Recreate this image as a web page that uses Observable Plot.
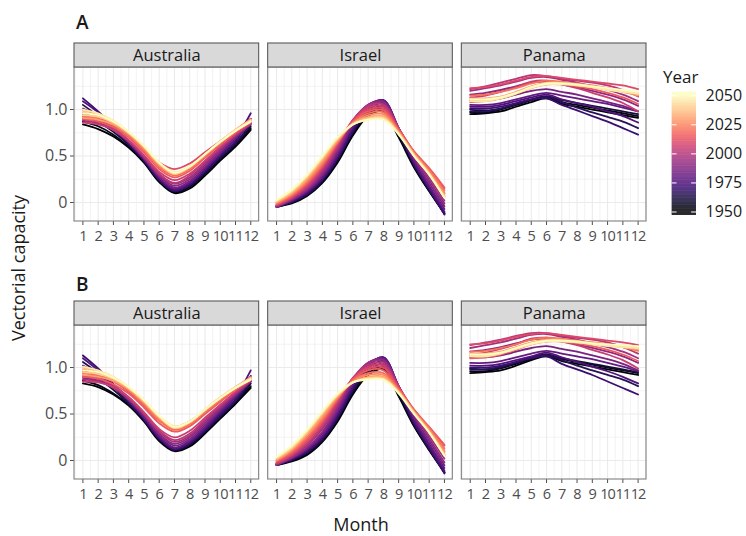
<!DOCTYPE html>
<html>
<head>
<meta charset="utf-8">
<script src="https://cdn.jsdelivr.net/npm/d3@7"></script>
<script src="https://cdn.jsdelivr.net/npm/@observablehq/plot@0.6"></script>
<style>
  body { margin: 0; background: #fff; font-family: "Open Sans", sans-serif; }
  #chart { position: relative; width: 746px; height: 536px; overflow: hidden; background: #fff; }
  .abs { position: absolute; white-space: nowrap; color: #1a1a1a; }
  .tag { font-size: 19px; font-weight: 600; line-height: 20px; }
  .title { font-size: 18px; line-height: 20px; }
  #chart svg g[aria-label="x-axis tick label"] text { font-size: 14.5px; letter-spacing: -0.9px; }
</style>
</head>
<body>
<div id="chart"></div>
<script>
// Facets, months and years shown in each row
const countries = ["Australia", "Israel", "Panama"];
const months = [1, 2, 3, 4, 5, 6, 7, 8, 9, 10, 11, 12];
const years = [1950, 1955, 1960, 1965, 1970, 1975, 1980, 1985, 1990, 1995, 2000,
               2005, 2010, 2015, 2020, 2025, 2030, 2035, 2040, 2045, 2050];

// Axis breaks
const yTicks = [0, 0.5, 1];
const yMinor = [0.25, 0.75, 1.25];
const monthMinor = [0.5, 1.5, 2.5, 3.5, 4.5, 5.5, 6.5, 7.5, 8.5, 9.5, 10.5, 11.5, 12.5];
const legendTicks = [1950, 1975, 2000, 2025, 2050];

// Monthly vectorial capacity, one row of 12 months per year (row A)
const australiaA = [
  [0.84, 0.79, 0.71, 0.59, 0.43, 0.22, 0.10, 0.15, 0.29, 0.45, 0.60, 0.78],
  [0.87, 0.82, 0.73, 0.60, 0.44, 0.23, 0.11, 0.17, 0.31, 0.47, 0.62, 0.80],
  [0.95, 0.87, 0.76, 0.62, 0.45, 0.24, 0.12, 0.18, 0.32, 0.48, 0.63, 0.82],
  [1.05, 0.93, 0.79, 0.63, 0.45, 0.24, 0.12, 0.19, 0.33, 0.49, 0.64, 0.85],
  [1.12, 0.98, 0.82, 0.64, 0.46, 0.25, 0.13, 0.19, 0.34, 0.50, 0.66, 0.90],
  [1.09, 0.97, 0.82, 0.65, 0.47, 0.26, 0.14, 0.21, 0.36, 0.52, 0.69, 0.96],
  [1.01, 0.93, 0.81, 0.65, 0.47, 0.27, 0.15, 0.22, 0.37, 0.53, 0.69, 0.86],
  [0.96, 0.90, 0.80, 0.65, 0.48, 0.28, 0.16, 0.23, 0.38, 0.54, 0.70, 0.84],
  [0.90, 0.86, 0.78, 0.65, 0.48, 0.29, 0.18, 0.25, 0.40, 0.56, 0.71, 0.85],
  [0.88, 0.85, 0.78, 0.66, 0.49, 0.30, 0.20, 0.27, 0.42, 0.58, 0.72, 0.86],
  [0.92, 0.88, 0.80, 0.67, 0.50, 0.31, 0.21, 0.29, 0.44, 0.59, 0.73, 0.87],
  [0.86, 0.84, 0.78, 0.67, 0.51, 0.33, 0.24, 0.31, 0.45, 0.60, 0.73, 0.85],
  [0.95, 0.91, 0.84, 0.73, 0.58, 0.43, 0.36, 0.42, 0.54, 0.66, 0.78, 0.90],
  [0.90, 0.87, 0.81, 0.70, 0.54, 0.36, 0.27, 0.34, 0.48, 0.62, 0.75, 0.86],
  [0.93, 0.90, 0.83, 0.72, 0.56, 0.38, 0.29, 0.36, 0.50, 0.64, 0.77, 0.88],
  [0.97, 0.93, 0.85, 0.74, 0.58, 0.40, 0.31, 0.38, 0.51, 0.65, 0.77, 0.88],
  [0.91, 0.89, 0.84, 0.74, 0.59, 0.41, 0.31, 0.38, 0.51, 0.65, 0.78, 0.89],
  [0.99, 0.95, 0.87, 0.75, 0.60, 0.42, 0.32, 0.39, 0.52, 0.66, 0.78, 0.89],
  [0.94, 0.92, 0.86, 0.75, 0.60, 0.42, 0.31, 0.38, 0.52, 0.65, 0.77, 0.87],
  [1.00, 0.96, 0.88, 0.76, 0.61, 0.43, 0.33, 0.39, 0.52, 0.66, 0.78, 0.88],
  [0.96, 0.94, 0.87, 0.76, 0.61, 0.43, 0.32, 0.39, 0.52, 0.65, 0.77, 0.87]
];
const israelA = [
  [-0.04, -0.01, 0.07, 0.21, 0.43, 0.72, 0.93, 0.98, 0.70, 0.38, 0.12, -0.12],
  [-0.05, 0.00, 0.08, 0.22, 0.45, 0.74, 0.95, 1.01, 0.72, 0.39, 0.13, -0.12],
  [-0.04, 0.00, 0.08, 0.23, 0.46, 0.75, 0.97, 1.04, 0.74, 0.40, 0.13, -0.11],
  [-0.05, 0.01, 0.09, 0.24, 0.47, 0.76, 0.99, 1.07, 0.76, 0.41, 0.14, -0.12],
  [-0.04, 0.01, 0.10, 0.25, 0.48, 0.78, 1.01, 1.10, 0.78, 0.42, 0.15, -0.13],
  [-0.04, 0.02, 0.11, 0.26, 0.50, 0.80, 1.03, 1.10, 0.79, 0.43, 0.16, -0.10],
  [-0.03, 0.02, 0.12, 0.28, 0.52, 0.82, 1.04, 1.10, 0.80, 0.45, 0.18, -0.07],
  [-0.04, 0.03, 0.13, 0.29, 0.54, 0.84, 1.05, 1.09, 0.80, 0.47, 0.21, -0.04],
  [-0.05, 0.03, 0.14, 0.31, 0.56, 0.86, 1.05, 1.08, 0.80, 0.49, 0.24, -0.01],
  [-0.04, 0.04, 0.15, 0.33, 0.58, 0.88, 1.05, 1.06, 0.80, 0.51, 0.27, 0.02],
  [-0.03, 0.05, 0.17, 0.35, 0.60, 0.89, 1.04, 1.05, 0.80, 0.53, 0.30, 0.06],
  [-0.03, 0.05, 0.18, 0.37, 0.62, 0.88, 1.02, 1.03, 0.79, 0.54, 0.33, 0.10],
  [-0.02, 0.06, 0.19, 0.38, 0.63, 0.88, 1.00, 1.01, 0.79, 0.55, 0.36, 0.15],
  [-0.02, 0.07, 0.21, 0.40, 0.64, 0.87, 0.98, 0.99, 0.78, 0.55, 0.37, 0.16],
  [-0.01, 0.08, 0.22, 0.41, 0.65, 0.86, 0.96, 0.97, 0.77, 0.54, 0.35, 0.13],
  [0.00, 0.09, 0.24, 0.43, 0.66, 0.85, 0.94, 0.95, 0.76, 0.53, 0.33, 0.10],
  [0.00, 0.10, 0.25, 0.45, 0.67, 0.85, 0.92, 0.93, 0.75, 0.52, 0.32, 0.08],
  [0.01, 0.11, 0.27, 0.47, 0.68, 0.84, 0.91, 0.92, 0.75, 0.52, 0.31, 0.07],
  [0.02, 0.12, 0.28, 0.48, 0.69, 0.84, 0.90, 0.91, 0.74, 0.51, 0.31, 0.06],
  [0.02, 0.13, 0.29, 0.49, 0.70, 0.84, 0.89, 0.90, 0.74, 0.50, 0.30, 0.05],
  [0.03, 0.14, 0.30, 0.50, 0.70, 0.84, 0.89, 0.89, 0.73, 0.50, 0.30, 0.05]
];
const panamaA = [
  [0.95, 0.96, 0.98, 1.03, 1.08, 1.12, 1.06, 1.03, 1.00, 0.97, 0.94, 0.91],
  [0.97, 0.97, 1.00, 1.05, 1.10, 1.13, 1.08, 1.05, 1.02, 0.99, 0.96, 0.93],
  [1.00, 0.99, 1.01, 1.05, 1.10, 1.14, 1.10, 1.07, 1.04, 1.01, 0.98, 0.95],
  [0.98, 0.98, 1.01, 1.06, 1.11, 1.14, 1.08, 1.02, 0.97, 0.92, 0.87, 0.80],
  [1.01, 1.01, 1.03, 1.07, 1.11, 1.12, 1.05, 0.99, 0.93, 0.87, 0.80, 0.73],
  [1.03, 1.03, 1.05, 1.09, 1.13, 1.16, 1.11, 1.07, 1.03, 0.98, 0.93, 0.86],
  [1.05, 1.05, 1.07, 1.11, 1.15, 1.18, 1.15, 1.12, 1.09, 1.06, 1.02, 0.98],
  [1.10, 1.10, 1.12, 1.16, 1.20, 1.22, 1.19, 1.16, 1.12, 1.08, 1.04, 0.98],
  [1.16, 1.18, 1.21, 1.25, 1.29, 1.30, 1.27, 1.24, 1.20, 1.16, 1.11, 1.04],
  [1.20, 1.23, 1.26, 1.30, 1.34, 1.35, 1.32, 1.29, 1.25, 1.21, 1.16, 1.09],
  [1.22, 1.25, 1.29, 1.33, 1.37, 1.36, 1.33, 1.31, 1.29, 1.26, 1.21, 1.14],
  [1.13, 1.15, 1.19, 1.24, 1.30, 1.31, 1.27, 1.23, 1.18, 1.13, 1.07, 0.98],
  [1.23, 1.24, 1.27, 1.31, 1.35, 1.36, 1.34, 1.32, 1.30, 1.28, 1.26, 1.22],
  [1.08, 1.09, 1.12, 1.17, 1.23, 1.27, 1.27, 1.25, 1.22, 1.18, 1.13, 1.06],
  [1.15, 1.16, 1.19, 1.23, 1.28, 1.31, 1.30, 1.28, 1.26, 1.23, 1.20, 1.15],
  [1.10, 1.11, 1.13, 1.18, 1.24, 1.28, 1.28, 1.27, 1.25, 1.22, 1.19, 1.15],
  [1.12, 1.12, 1.14, 1.19, 1.25, 1.29, 1.29, 1.27, 1.25, 1.23, 1.20, 1.17],
  [1.10, 1.10, 1.13, 1.18, 1.24, 1.28, 1.28, 1.27, 1.25, 1.22, 1.20, 1.16],
  [1.11, 1.11, 1.13, 1.18, 1.24, 1.28, 1.28, 1.26, 1.24, 1.22, 1.20, 1.18],
  [1.09, 1.09, 1.12, 1.17, 1.23, 1.27, 1.27, 1.26, 1.24, 1.21, 1.19, 1.17],
  [1.11, 1.11, 1.13, 1.18, 1.24, 1.28, 1.28, 1.27, 1.25, 1.23, 1.21, 1.19]
];

// Monthly vectorial capacity, one row of 12 months per year (row B)
const australiaB = [
  [0.83, 0.79, 0.71, 0.59, 0.42, 0.21, 0.10, 0.15, 0.29, 0.45, 0.61, 0.78],
  [0.86, 0.81, 0.72, 0.60, 0.43, 0.22, 0.11, 0.16, 0.30, 0.46, 0.62, 0.80],
  [0.96, 0.88, 0.76, 0.61, 0.44, 0.23, 0.11, 0.17, 0.31, 0.47, 0.63, 0.83],
  [1.06, 0.94, 0.79, 0.62, 0.44, 0.23, 0.12, 0.18, 0.32, 0.48, 0.64, 0.86],
  [1.13, 0.99, 0.82, 0.64, 0.45, 0.24, 0.12, 0.19, 0.33, 0.50, 0.66, 0.91],
  [1.10, 0.97, 0.82, 0.65, 0.46, 0.25, 0.13, 0.20, 0.35, 0.52, 0.69, 0.97],
  [1.02, 0.93, 0.81, 0.65, 0.47, 0.26, 0.14, 0.21, 0.36, 0.53, 0.69, 0.87],
  [0.95, 0.90, 0.80, 0.65, 0.48, 0.28, 0.16, 0.23, 0.38, 0.54, 0.70, 0.85],
  [0.89, 0.86, 0.79, 0.66, 0.49, 0.29, 0.18, 0.25, 0.40, 0.56, 0.71, 0.85],
  [0.87, 0.85, 0.78, 0.66, 0.50, 0.31, 0.20, 0.27, 0.42, 0.58, 0.72, 0.86],
  [0.91, 0.88, 0.81, 0.68, 0.51, 0.32, 0.22, 0.29, 0.44, 0.59, 0.73, 0.87],
  [0.85, 0.84, 0.79, 0.68, 0.52, 0.34, 0.25, 0.32, 0.46, 0.60, 0.74, 0.86],
  [0.96, 0.92, 0.85, 0.74, 0.59, 0.43, 0.36, 0.42, 0.54, 0.66, 0.78, 0.90],
  [0.90, 0.88, 0.82, 0.72, 0.57, 0.40, 0.31, 0.37, 0.50, 0.63, 0.76, 0.87],
  [0.94, 0.91, 0.85, 0.75, 0.60, 0.43, 0.33, 0.39, 0.52, 0.65, 0.77, 0.88],
  [0.98, 0.94, 0.87, 0.77, 0.62, 0.45, 0.35, 0.41, 0.54, 0.67, 0.78, 0.88],
  [0.92, 0.90, 0.86, 0.77, 0.63, 0.46, 0.35, 0.41, 0.54, 0.67, 0.79, 0.89],
  [1.00, 0.96, 0.89, 0.78, 0.64, 0.47, 0.36, 0.42, 0.55, 0.68, 0.79, 0.89],
  [0.95, 0.93, 0.88, 0.78, 0.64, 0.47, 0.35, 0.41, 0.54, 0.67, 0.78, 0.87],
  [1.01, 0.97, 0.90, 0.79, 0.65, 0.48, 0.37, 0.42, 0.55, 0.68, 0.79, 0.88],
  [0.97, 0.95, 0.89, 0.79, 0.65, 0.48, 0.36, 0.42, 0.55, 0.67, 0.78, 0.87]
];
const israelB = [
  [-0.05, -0.01, 0.06, 0.20, 0.42, 0.71, 0.92, 0.98, 0.69, 0.37, 0.11, -0.13],
  [-0.05, 0.00, 0.07, 0.21, 0.44, 0.73, 0.94, 1.01, 0.71, 0.38, 0.12, -0.13],
  [-0.04, 0.00, 0.08, 0.22, 0.45, 0.74, 0.96, 1.04, 0.73, 0.39, 0.12, -0.12],
  [-0.05, 0.01, 0.09, 0.23, 0.46, 0.76, 0.99, 1.07, 0.75, 0.40, 0.13, -0.13],
  [-0.04, 0.01, 0.10, 0.24, 0.48, 0.78, 1.01, 1.11, 0.78, 0.41, 0.14, -0.14],
  [-0.04, 0.02, 0.11, 0.26, 0.50, 0.80, 1.03, 1.11, 0.79, 0.43, 0.16, -0.11],
  [-0.03, 0.02, 0.12, 0.27, 0.52, 0.82, 1.04, 1.10, 0.80, 0.45, 0.18, -0.08],
  [-0.04, 0.03, 0.13, 0.29, 0.54, 0.84, 1.05, 1.09, 0.80, 0.47, 0.21, -0.05],
  [-0.05, 0.03, 0.14, 0.31, 0.57, 0.86, 1.05, 1.08, 0.80, 0.49, 0.24, -0.02],
  [-0.04, 0.04, 0.16, 0.34, 0.59, 0.88, 1.05, 1.06, 0.80, 0.51, 0.27, 0.02],
  [-0.03, 0.05, 0.18, 0.36, 0.61, 0.89, 1.03, 1.04, 0.79, 0.53, 0.30, 0.06],
  [-0.03, 0.06, 0.19, 0.38, 0.63, 0.88, 1.01, 1.02, 0.79, 0.54, 0.33, 0.10],
  [-0.02, 0.07, 0.21, 0.40, 0.65, 0.88, 0.99, 1.00, 0.78, 0.55, 0.36, 0.16],
  [-0.01, 0.08, 0.23, 0.42, 0.66, 0.87, 0.97, 0.97, 0.77, 0.54, 0.36, 0.17],
  [0.00, 0.10, 0.25, 0.44, 0.67, 0.86, 0.94, 0.94, 0.76, 0.54, 0.35, 0.13],
  [0.00, 0.11, 0.27, 0.46, 0.68, 0.85, 0.92, 0.92, 0.75, 0.53, 0.33, 0.10],
  [0.01, 0.12, 0.28, 0.48, 0.69, 0.84, 0.90, 0.90, 0.74, 0.52, 0.32, 0.08],
  [0.02, 0.13, 0.30, 0.50, 0.70, 0.84, 0.89, 0.89, 0.74, 0.52, 0.31, 0.07],
  [0.03, 0.14, 0.31, 0.51, 0.71, 0.84, 0.88, 0.88, 0.73, 0.51, 0.31, 0.06],
  [0.03, 0.15, 0.32, 0.52, 0.71, 0.84, 0.88, 0.87, 0.73, 0.51, 0.30, 0.05],
  [0.04, 0.16, 0.33, 0.53, 0.72, 0.84, 0.87, 0.87, 0.72, 0.50, 0.30, 0.05]
];
const panamaB = [
  [0.94, 0.95, 0.97, 1.02, 1.08, 1.12, 1.07, 1.04, 1.01, 0.98, 0.95, 0.92],
  [0.96, 0.96, 0.99, 1.04, 1.09, 1.13, 1.09, 1.06, 1.03, 1.00, 0.97, 0.94],
  [0.99, 0.98, 1.00, 1.05, 1.10, 1.14, 1.10, 1.07, 1.04, 1.01, 0.98, 0.95],
  [0.98, 0.98, 1.01, 1.06, 1.11, 1.14, 1.08, 1.02, 0.97, 0.92, 0.87, 0.80],
  [1.00, 1.00, 1.02, 1.06, 1.10, 1.12, 1.04, 0.98, 0.92, 0.85, 0.78, 0.71],
  [1.02, 1.02, 1.04, 1.08, 1.12, 1.16, 1.11, 1.06, 1.01, 0.96, 0.90, 0.83],
  [1.05, 1.05, 1.07, 1.11, 1.15, 1.18, 1.15, 1.12, 1.09, 1.05, 1.01, 0.96],
  [1.11, 1.11, 1.13, 1.17, 1.21, 1.23, 1.20, 1.17, 1.13, 1.09, 1.04, 0.97],
  [1.17, 1.19, 1.22, 1.26, 1.30, 1.31, 1.28, 1.25, 1.21, 1.17, 1.12, 1.05],
  [1.21, 1.24, 1.27, 1.31, 1.35, 1.36, 1.33, 1.30, 1.26, 1.22, 1.17, 1.10],
  [1.24, 1.27, 1.30, 1.34, 1.37, 1.37, 1.34, 1.32, 1.30, 1.27, 1.22, 1.15],
  [1.14, 1.16, 1.20, 1.25, 1.31, 1.32, 1.28, 1.24, 1.19, 1.14, 1.08, 0.99],
  [1.25, 1.26, 1.29, 1.33, 1.36, 1.37, 1.35, 1.33, 1.31, 1.29, 1.27, 1.24],
  [1.10, 1.11, 1.14, 1.19, 1.25, 1.28, 1.28, 1.26, 1.23, 1.19, 1.14, 1.07],
  [1.17, 1.18, 1.21, 1.25, 1.30, 1.32, 1.31, 1.29, 1.27, 1.25, 1.22, 1.18],
  [1.13, 1.14, 1.16, 1.21, 1.26, 1.29, 1.29, 1.28, 1.26, 1.24, 1.22, 1.19],
  [1.15, 1.15, 1.17, 1.22, 1.27, 1.30, 1.30, 1.28, 1.27, 1.25, 1.23, 1.21],
  [1.13, 1.13, 1.16, 1.21, 1.26, 1.29, 1.29, 1.28, 1.26, 1.24, 1.22, 1.20],
  [1.14, 1.14, 1.16, 1.21, 1.26, 1.29, 1.29, 1.27, 1.26, 1.24, 1.23, 1.22],
  [1.12, 1.12, 1.15, 1.20, 1.25, 1.28, 1.28, 1.27, 1.25, 1.23, 1.22, 1.21],
  [1.14, 1.14, 1.16, 1.21, 1.26, 1.29, 1.29, 1.28, 1.26, 1.25, 1.24, 1.23]
];

// Panel extents in data units; the strip sits above the panel on the same y scale
const xLow = 0.45, xHigh = 12.55;
const yLow = -0.204, yPanelTop = 1.452, yStripTop = 1.71;

const colorScale = {type: "linear", scheme: "magma", domain: [1950, 2050], clamp: true};
const gridColor = "#ebebeb";

function facetRow(byCountry) {
  const rows = [];
  for (const c of countries) {
    byCountry[c].forEach((vals, i) => {
      vals.forEach((v, j) => rows.push({country: c, year: years[i], month: months[j], value: v}));
    });
  }
  return Plot.plot({
    width: 660,
    height: 250,
    marginLeft: 74,
    marginRight: 14,
    marginTop: 43,
    marginBottom: 29,
    style: {fontFamily: "Open Sans, sans-serif", fontSize: "16px", color: "#4d4d4d", background: "transparent", overflow: "visible"},
    fx: {domain: countries, paddingInner: 0.0465, paddingOuter: 0, round: false, axis: null, label: null},
    x: {domain: [xLow, xHigh], ticks: months, tickFormat: (d) => String(d), tickSize: 4, tickPadding: 5, label: null},
    y: {domain: [yLow, yStripTop], ticks: yTicks, tickFormat: (d) => (d === 0 ? "0" : d3.format(".1f")(d)), tickSize: 4, tickPadding: 3, label: null},
    color: colorScale,
    marks: [
      // grid
      Plot.ruleX(monthMinor, {y1: yLow, y2: yPanelTop, stroke: gridColor, strokeWidth: 0.6}),
      Plot.ruleY(yMinor, {x1: xLow, x2: xHigh, stroke: gridColor, strokeWidth: 0.6}),
      Plot.ruleX(months, {y1: yLow, y2: yPanelTop, stroke: gridColor, strokeWidth: 1.1}),
      Plot.ruleY(yTicks, {x1: xLow, x2: xHigh, stroke: gridColor, strokeWidth: 1.1}),
      // one smoothed seasonal curve per year
      Plot.line(rows, {
        fx: "country", x: "month", y: "value", z: "year", stroke: "year",
        curve: "catmull-rom", strokeWidth: 1.8
      }),
      // panel border
      Plot.rect(countries, {fx: (d) => d, x1: xLow, x2: xHigh, y1: yLow, y2: yPanelTop, fill: "none", stroke: "#808080", strokeWidth: 1.1}),
      // facet strip
      Plot.rect(countries, {fx: (d) => d, x1: xLow, x2: xHigh, y1: yPanelTop, y2: yStripTop, fill: "#d9d9d9", stroke: "#5a5a5a", strokeWidth: 1.1}),
      Plot.text(countries, {fx: (d) => d, x: (xLow + xHigh) / 2, y: (yPanelTop + yStripTop) / 2, text: (d) => d, fontSize: 16.5, fill: "#1a1a1a"})
    ]
  });
}

const chart = document.getElementById("chart");

function place(node, left, top) {
  node.style.position = "absolute";
  node.style.left = left + "px";
  node.style.top = top + "px";
  chart.appendChild(node);
  return node;
}

function label(text, cls, left, top, extra) {
  const d = document.createElement("div");
  d.className = "abs " + cls;
  d.textContent = text;
  Object.assign(d.style, extra || {});
  return place(d, left, top);
}

place(facetRow({Australia: australiaA, Israel: israelA, Panama: panamaA}), 0, 0);
place(facetRow({Australia: australiaB, Israel: israelB, Panama: panamaB}), 0, 258);

// Colour bar for year
const legendSteps = d3.range(1947, 2053, 0.5);
const legend = Plot.plot({
  width: 86,
  height: 145,
  margin: 0,
  style: {fontFamily: "Open Sans, sans-serif", background: "transparent", overflow: "visible"},
  x: {domain: [0, 1], range: [11.7, 36], axis: null},
  y: {domain: [1947, 2053], range: [130, 6.7], axis: null},
  color: colorScale,
  marks: [
    Plot.rect(legendSteps, {x1: 0, x2: 1, y1: (d) => d, y2: (d) => d + 0.6, fill: (d) => d}),
    Plot.ruleY(legendTicks, {x1: 0, x2: 0.2, stroke: "white", strokeWidth: 1}),
    Plot.ruleY(legendTicks, {x1: 0.8, x2: 1, stroke: "white", strokeWidth: 1}),
    Plot.text(legendTicks, {x: 1, y: (d) => d, dx: 9, text: (d) => String(d), textAnchor: "start", fontSize: 16, fill: "#1a1a1a"})
  ]
});
place(legend, 660, 85);

label("Year", "title", 663, 67, {fontSize: "17px"});
label("A", "tag", 76, 12);
label("B", "tag", 76, 274);
label("Month", "title", 311, 514, {width: "100px", textAlign: "center"});
label("Vectorial capacity", "title", 18, 268, {transform: "translate(-50%, -50%) rotate(-90deg)"});
</script>
</body>
</html>
